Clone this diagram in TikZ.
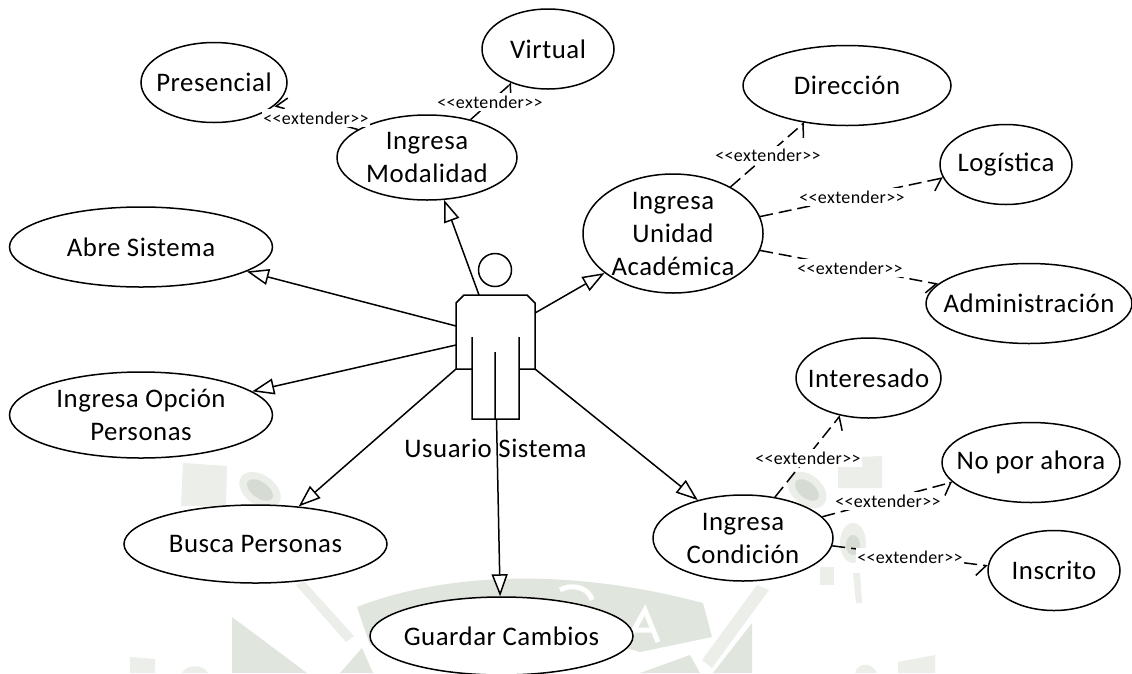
\documentclass[tikz,border=0pt]{standalone}
\usepackage{fontspec}
\setmainfont{Carlito}[LetterSpace=2]
\usetikzlibrary{shapes.geometric,arrows.meta}
\definecolor{wma}{HTML}{EBEEE9}
\definecolor{wmb}{HTML}{E0E5DD}
\definecolor{wmc}{HTML}{D6DCD3}
\newcommand{\ext}{<{}<extender>{}>}
\tikzset{
  usecase/.style={draw=black,line width=1.5pt,ellipse,inner sep=-22pt,fill=white,align=center,
    font=\fontsize{26.8}{33}\selectfont},
  gen/.style={draw=black,line width=1.5pt,-{Triangle[open,fill=white,length=22pt,width=16pt,line width=1.5pt]}},
  ext/.style={draw=black,line width=1.5pt,dash pattern=on 13pt off 6pt,-{Straight Barb[harpoon,swap,length=9pt,width=22pt,line width=1.5pt]}},
  extlabel/.style={fill=white,inner xsep=1pt,inner ysep=2.5pt,font=\fontsize{18}{18}\selectfont},
  actorline/.style={draw=black,line width=1.5pt}
}
\begin{document}
\begin{tikzpicture}[x=1pt,y=-1pt]
\useasboundingbox (0,0) rectangle (1132,673);
\fill[white] (0,0) rectangle (1132,673);
% watermark
\fill[wma] (183,463) -- (227,466) -- (226,506) -- (181,506) -- cycle;
\fill[wma,rotate around={-35:(260,490)}] (260,490) ellipse (23 and 15);
\fill[wmc,rotate around={-35:(260,490)}] (260,490) ellipse (15 and 8);
\fill[wma] (296,585) -- (304,581) -- (354,636) -- (346,642) -- cycle;
\fill[wmb] (232,617) -- (307,673) -- (232,673) -- cycle;
\fill[wmb] (357,607) .. controls (420,582) and (540,560) .. (703,603)
  -- (712,637) -- (640,652) -- (600,640) -- (400,640) -- (370,645) -- cycle;
\fill[wmb] (340,673) -- (362,648) -- (373,673) -- cycle;
\draw[white,line width=5pt] (627,642) -- (645,610) -- (658,642) (634,630) -- (652,630);
\draw[white,line width=5pt] (560,590) .. controls (575,582) and (590,590) .. (592,600);
\fill[wma] (757,585) -- (769,590) -- (712,668) -- (702,660) -- cycle;
\fill[wmb] (752,623) -- (752,673) -- (713,673) -- cycle;
\fill[wmb] (640,673) -- (690,655) -- (700,673) -- cycle;
\fill[wma] (838,458) -- (882,456) -- (882,488) -- (838,488) -- cycle;
\fill[wma,rotate around={-40:(807,490)}] (807,490) ellipse (22 and 15);
\fill[wmc,rotate around={-40:(807,490)}] (807,490) ellipse (14 and 8);
\fill[wma] (853,543) ellipse (13 and 20);
\fill[wmc] (853,545) ellipse (7 and 10);
\fill[wma] (820,567) rectangle (834,585);
\fill[wma] (853,573) -- (860,573) -- (862,603) -- (856,603) -- cycle;
\fill[wma] (898,662) -- (935,655) -- (935,673) -- (898,673) -- cycle;
\fill[wma] (855,673) .. controls (858,662) and (872,662) .. (877,673) -- cycle;
\fill[wma] (130,657) -- (155,659) -- (155,673) -- (130,673) -- cycle;
\fill[wma] (182,673) .. controls (186,664) and (204,664) .. (208,673) -- cycle;
% use cases
\node[usecase,minimum width=146pt,minimum height=80pt] (pres) at (214,82.5) {Presencial};
\node[usecase,minimum width=132pt,minimum height=80pt] (virt) at (548,49) {Virtual};
\node[usecase,minimum width=180pt,minimum height=85pt] (moda) at (427,157.5) {Ingresa\\Modalidad};
\node[usecase,minimum width=263pt,minimum height=80pt] (abre) at (141,247) {Abre Sistema};
\node[usecase,minimum width=263pt,minimum height=86pt] (opci) at (141,415) {Ingresa Opción\\Personas};
\node[usecase,minimum width=263pt,minimum height=78pt] (busc) at (255.5,544) {Busca Personas};
\node[usecase,minimum width=263pt,minimum height=78pt] (guar) at (501.5,636) {Guardar Cambios};
\node[usecase,minimum width=180pt,minimum height=119pt] (unid) at (673,233.5) {Ingresa\\Unidad\\Académica};
\node[usecase,minimum width=208pt,minimum height=80pt] (dire) at (847,85.5) {Dirección};
\node[usecase,minimum width=132pt,minimum height=80pt] (logi) at (1006,164.5) {Logística};
\node[usecase,minimum width=206pt,minimum height=80pt] (admi) at (1029,303.5) {Administración};
\node[usecase,minimum width=180pt,minimum height=86pt] (cond) at (743,538) {Ingresa\\Condición};
\node[usecase,minimum width=145pt,minimum height=80pt] (inte) at (868.5,378) {Interesado};
\node[usecase,minimum width=178pt,minimum height=80pt] (nopo) at (1031,462.5) {No por ahora};
\node[usecase,minimum width=132pt,minimum height=80pt] (insc) at (1054,570.5) {Inscrito};
% actor
\node[draw=black,line width=1.5pt,circle,minimum size=33pt,inner sep=0pt] (head) at (495,270) {};
\path[actorline] (456,369) -- (456,303) -- (464,295) -- (527,295) -- (535,303) -- (535,369) -- (519,369)
  (456,369) -- (472,369)
  (472,337) -- (472,419) -- (519,419) -- (519,337)
  (495,352) -- (495,419);
\node[font=\fontsize{26.8}{33}\selectfont] (alabel) at (495.5,448) {Usuario Sistema};
\coordinate (aM) at (479,295);
\coordinate (aA) at (456,326);
\coordinate (aO) at (456,345);
\coordinate (aB) at (456,369);
\coordinate (aG) at (496.5,419);
\coordinate (aC) at (535,369);
\coordinate (aU) at (535,313);
% generalisations
\draw[gen] (aM) -- (moda.-68.2);
\draw[gen] (aA) -- (abre.-13.8);
\draw[gen] (aO) -- (opci.12.4);
\draw[gen] (aB) -- (busc.41.1);
\draw[gen] (aG) -- (guar.92.2);
\draw[gen] (aC) -- (cond.140.4);
\draw[gen] (aU) -- (unid.210.1);
% extends
\draw[ext] (moda.158.3) -- (pres.-21.2);
\draw[ext] (moda.41.1) -- (virt.223.4);
\draw[ext] (unid.39.7) -- (dire.221.8);
\draw[ext] (unid.11.5) -- (logi.192.1);
\draw[ext] (unid.-11.5) -- (admi.168.6);
\draw[ext] (cond.52) -- (inte.233.1);
\draw[ext] (cond.15.6) -- (nopo.194.2);
\draw[ext] (cond.-5.8) -- (insc.176.9);
% labels
\node[extlabel] (l1) at (316,118) {\ext};
\node[extlabel] (l2) at (490,102) {\ext};
\node[extlabel] (l3) at (768,155) {\ext};
\node[extlabel] (l4) at (852,197) {\ext};
\node[extlabel] (l5) at (850,268) {\ext};
\node[extlabel] (l6) at (808,458) {\ext};
\node[extlabel] (l7) at (888,501) {\ext};
\node[extlabel] (l8) at (910,557) {\ext};
\end{tikzpicture}
\end{document}
